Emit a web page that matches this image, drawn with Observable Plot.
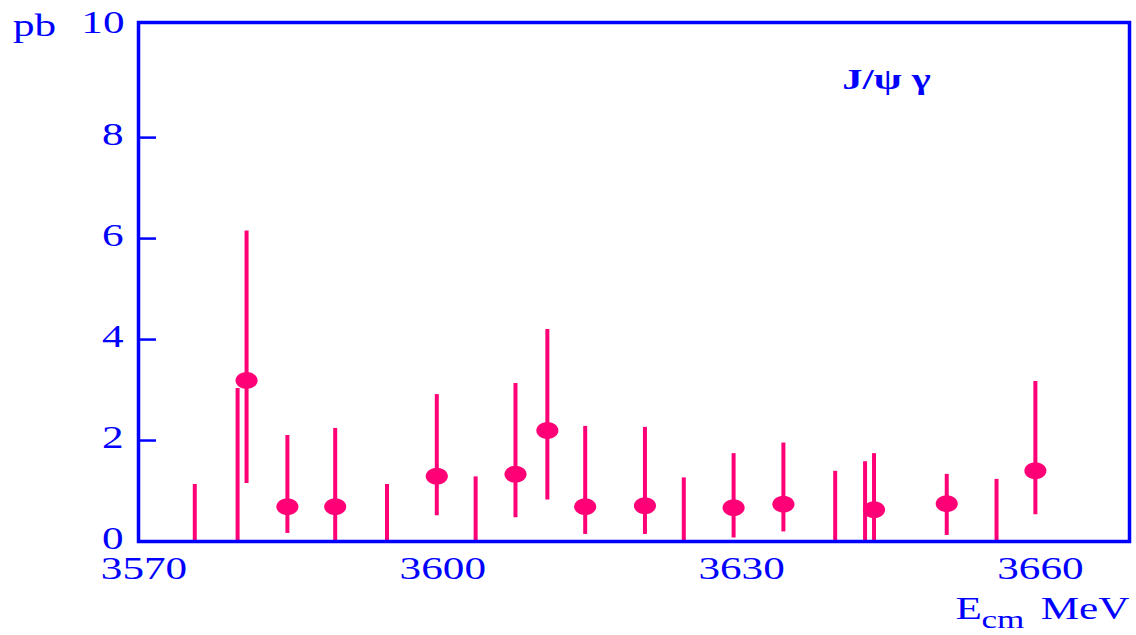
<!DOCTYPE html>
<html>
<head>
<meta charset="utf-8">
<script src="https://cdn.jsdelivr.net/npm/d3@7"></script>
<script src="https://cdn.jsdelivr.net/npm/@observablehq/plot@0.6"></script>
<style>
  html, body { margin: 0; padding: 0; background: #fff; }
</style>
</head>
<body>
<div id="chart"></div>
<script>
// Measured cross sections (pb) with error bars, by centre-of-mass energy (MeV)
const pointE     = [3580.3, 3584.4, 3589.2, 3599.4, 3607.3, 3610.5, 3614.3, 3620.3, 3629.2, 3634.2, 3643.3, 3650.6, 3659.5];
const pointSigma = [3.19, 0.69, 0.69, 1.29, 1.33, 2.20, 0.69, 0.71, 0.67, 0.74, 0.63, 0.75, 1.40];
const errLow     = [1.15, 0.16, 0.00, 0.51, 0.47, 0.82, 0.14, 0.14, 0.07, 0.19, 0.00, 0.12, 0.53];
const errHigh    = [6.15, 2.10, 2.24, 2.91, 3.13, 4.20, 2.28, 2.26, 1.74, 1.95, 1.74, 1.33, 3.17];

// Energies where only an upper limit (pb) was obtained
const limitE  = [3575.1, 3579.4, 3594.4, 3603.3, 3624.2, 3639.4, 3642.4, 3655.6];
const limitUL = [1.13, 3.03, 1.13, 1.28, 1.26, 1.39, 1.58, 1.23];

// Axis ticks and labels
const xTicks = [3570, 3600, 3630, 3660];
const yTickLabels = [0, 2, 4, 6, 8];
const yTickMarks = [2, 4, 6, 8];
const yTopLabel = "10";
const yUnit = "pb";
const channel = "J/ψ γ";
const xLabelMain = "E";
const xLabelSub = "cm";
const xLabelUnit = "MeV";

const points = pointE.map((E, i) => ({E, sigma: pointSigma[i], lo: errLow[i], hi: errHigh[i]}));
const limits = limitE.map((E, i) => ({E, ul: limitUL[i]}));

const blue = "#0000ff";
const pink = "#ff0077";

// Filled ellipse marker (wider than tall)
const ellipse = {
  draw(ctx, size) {
    const r = Math.sqrt(size / Math.PI);
    const rx = r * 1.3, ry = r, k = 0.5523;
    ctx.moveTo(rx, 0);
    ctx.bezierCurveTo(rx, ry * k, rx * k, ry, 0, ry);
    ctx.bezierCurveTo(-rx * k, ry, -rx, ry * k, -rx, 0);
    ctx.bezierCurveTo(-rx, -ry * k, -rx * k, -ry, 0, -ry);
    ctx.bezierCurveTo(rx * k, -ry, rx, -ry * k, rx, 0);
    ctx.closePath();
  }
};

const chart = Plot.plot({
  width: 1136,
  height: 635,
  marginLeft: 138,
  marginRight: 7,
  marginTop: 22,
  marginBottom: 94,
  style: {fontFamily: "'Liberation Serif', 'Times New Roman', serif", fontSize: "32px", color: blue, background: "#fff"},
  x: {domain: [3569.45, 3668.95], label: null},
  y: {domain: [0, 10.28], label: null},
  marks: [
    // upper-limit bars from zero
    Plot.ruleX(limits, {x: "E", y1: 0, y2: "ul", stroke: pink, strokeWidth: 4}),
    // error bars
    Plot.ruleX(points, {x: "E", y1: "lo", y2: "hi", stroke: pink, strokeWidth: 4}),
    // central values
    Plot.dot(points, {x: "E", y: "sigma", r: 8.5, symbol: ellipse, fill: pink, stroke: "none"}),
    Plot.frame({stroke: blue, strokeWidth: 3.5}),
    Plot.axisX(xTicks, {tickSize: 0, tickPadding: 15, tickFormat: d => String(d), label: null, fontSize: 32}),
    Plot.axisY(yTickLabels, {tickSize: 0, tickPadding: 15, dy: -3, tickFormat: d => String(d), label: null, fontSize: 32}),
    // short inward ticks on the left edge
    Plot.axisY(yTickMarks, {tickSize: 18, dx: 18, text: null, stroke: blue, strokeWidth: 2.5, label: null}),
    Plot.text([yTopLabel], {text: d => d, frameAnchor: "top-left", lineAnchor: "middle", textAnchor: "end", dx: -14, dy: 0, fontSize: 32, fill: blue}),
    Plot.text([yUnit], {text: d => d, frameAnchor: "top-left", lineAnchor: "middle", textAnchor: "middle", dx: -104, dy: 3.5, fontSize: 32, fill: blue}),
    Plot.text([channel], {text: d => d, frameAnchor: "top-left", lineAnchor: "middle", textAnchor: "middle", dx: 748, dy: 57, fontSize: 30, fontWeight: "bold", fill: blue}),
    Plot.text([xLabelMain], {text: d => d, frameAnchor: "bottom-right", lineAnchor: "middle", textAnchor: "start", dx: -174, dy: 67.5, fontSize: 32, fill: blue}),
    Plot.text([xLabelSub], {text: d => d, frameAnchor: "bottom-right", lineAnchor: "middle", textAnchor: "start", dx: -148, dy: 78, fontSize: 26, fill: blue}),
    Plot.text([xLabelUnit], {text: d => d, frameAnchor: "bottom-right", lineAnchor: "middle", textAnchor: "end", dx: 0, dy: 67, fontSize: 32, fill: blue})
  ]
});

document.getElementById("chart").appendChild(chart);

// Widen the serif lettering horizontally, keeping each text's anchor in place
chart.querySelectorAll("text").forEach(t => {
  const w = t.getComputedTextLength();
  if (w > 0) {
    t.setAttribute("textLength", (w * 1.35).toFixed(1));
    t.setAttribute("lengthAdjust", "spacingAndGlyphs");
  }
});
</script>
</body>
</html>
